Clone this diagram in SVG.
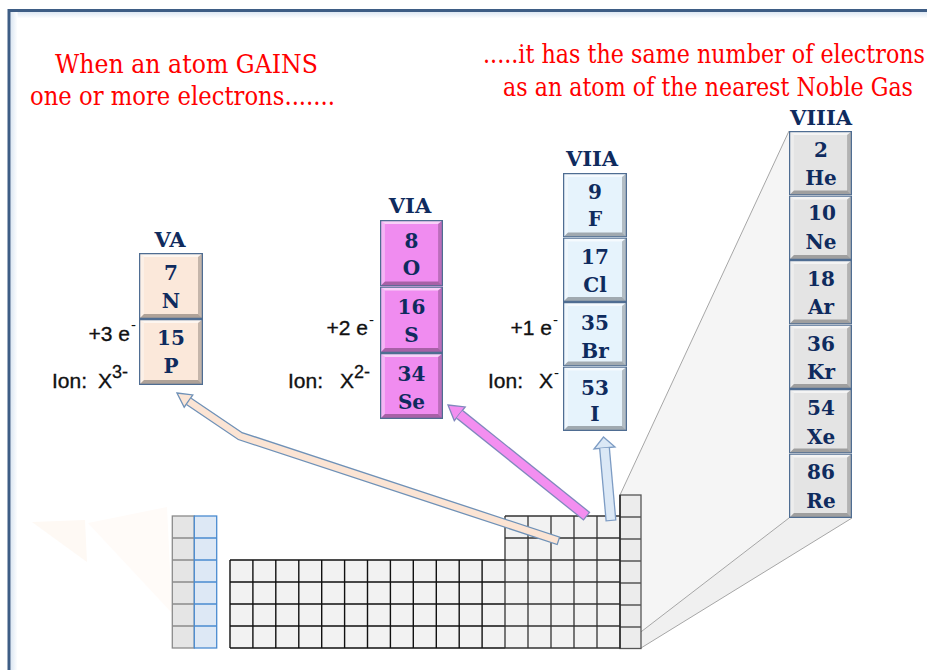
<svg xmlns="http://www.w3.org/2000/svg" width="927" height="670" viewBox="0 0 927 670">
<defs>
<style>
.title{font-family:'DejaVu Serif',serif;font-size:26.5px;fill:#ff0000;text-anchor:middle}
.grp{font-family:'DejaVu Serif',serif;font-weight:bold;font-size:21px;fill:#0f2b5e;text-anchor:middle}
.el{font-family:'DejaVu Serif',serif;font-weight:bold;font-size:20px;fill:#0f2b5e;text-anchor:middle}
.lbl{font-family:'Liberation Sans',Arial,sans-serif;font-size:21px;fill:#111;stroke:#111;stroke-width:.35px}
.sup{font-family:'Liberation Sans',Arial,sans-serif;font-size:18px;fill:#111;stroke:#111;stroke-width:.3px}
.tiny{font-family:'Liberation Sans',Arial,sans-serif;font-size:15px;fill:#111}
.va{fill:#fbe8da}
.via{fill:#f08cf0}
.viia{fill:#e6f3fc}
.viiia{fill:#e4e4e4}
.cellf{fill:#f2f2f2}
</style>
<linearGradient id="gtop" x1="0" y1="0" x2="0" y2="1"><stop offset="0" stop-color="#dbe6f2"/><stop offset="1" stop-color="#ffffff"/></linearGradient>
<linearGradient id="gleft" x1="0" y1="0" x2="1" y2="0"><stop offset="0" stop-color="#dbe6f2"/><stop offset="1" stop-color="#ffffff"/></linearGradient>
<symbol id="bv" viewBox="0 0 64 65" preserveAspectRatio="none">
<polygon points="0,0 64,0 59,4 5,4" fill="#fff" opacity=".6"/>
<polygon points="0,0 5,4 5,60 0,65" fill="#fff" opacity=".35"/>
<polygon points="64,0 64,65 59,60 59,4" fill="#000" opacity=".22"/>
<polygon points="0,65 64,65 59,60 5,60" fill="#000" opacity=".3"/>
<rect x=".6" y=".6" width="62.8" height="63.8" fill="none" stroke="#4f6d92" stroke-width="1.3"/>
</symbol>
</defs>
<rect width="927" height="670" fill="#ffffff"/>

<g id="frame">
<rect x="10.5" y="11.5" width="920" height="7" fill="url(#gtop)"/>
<rect x="10.5" y="11.5" width="7" height="660" fill="url(#gleft)"/>
<path d="M9,672 V10.5 H930" fill="none" stroke="#3e5d85" stroke-width="3"/>
</g>

<g id="faint">
<polygon points="32,522 85,520 87,562" fill="#fef9f4"/>
<polygon points="88,523 167,507 172,613" fill="#fffbf8"/>
</g>

<g id="titles">
<text class="title" x="186.5" y="73" textLength="263" lengthAdjust="spacingAndGlyphs">When an atom GAINS</text>
<text class="title" x="182.5" y="105" textLength="305" lengthAdjust="spacingAndGlyphs">one or more electrons.......</text>
<text class="title" x="704" y="63" textLength="442" lengthAdjust="spacingAndGlyphs">.....it has the same number of electrons</text>
<text class="title" x="708" y="96" textLength="410" lengthAdjust="spacingAndGlyphs">as an atom of the nearest Noble Gas</text>
</g>

<g id="projection">
<polygon points="620,495 789,131 789,518 620,648" fill="#f3f3f3" opacity=".8"/>
<polygon points="620,648 789,518 852,518 641,648" fill="#ececec" opacity=".8"/>
<path d="M620,495 L789,131 M620,648 L789,518 M641,648 L852,518" fill="none" stroke="#a6a6a6" stroke-width="1"/>
</g>

<g id="periodic-table">
<rect x="172.3" y="516" width="22" height="132" fill="#e5e5e5" stroke="#8a8a8a" stroke-width="1.3"/>
<path d="M172.3,538 H194.3 M172.3,560 H194.3 M172.3,582 H194.3 M172.3,604 H194.3 M172.3,626 H194.3" stroke="#8a8a8a" stroke-width="1.3"/>
<rect x="194.3" y="516" width="22.4" height="132" fill="#dde8f5" stroke="#4a8bd0" stroke-width="1.3"/>
<path d="M194.3,538 H216.7 M194.3,560 H216.7 M194.3,582 H216.7 M194.3,604 H216.7 M194.3,626 H216.7" stroke="#4a8bd0" stroke-width="1.3"/>

<rect class="cellf" x="230" y="560" width="275" height="88"/>
<path d="M230,560 V648 M252.9,560 V648 M275.8,560 V648 M298.8,560 V648 M321.7,560 V648 M344.6,560 V648 M367.5,560 V648 M390.4,560 V648 M413.3,560 V648 M436.3,560 V648 M459.2,560 V648 M482.1,560 V648 M230,560 H505 M230,582 H505 M230,604 H505 M230,626 H505 M230,648 H505" stroke="#111" stroke-width="1.4" fill="none"/>

<rect class="cellf" x="505" y="516" width="115" height="132"/>
<path d="M505,516 V648 M528,516 V648 M551,516 V648 M574,516 V648 M597,516 V648 M505,516 H620 M505,538 H620 M505,560 H620 M505,582 H620 M505,604 H620 M505,626 H620 M505,648 H620" stroke="#333" stroke-width="1.3" fill="none"/>

<rect x="620" y="495" width="21" height="153.5" fill="#ececec" stroke="#555" stroke-width="1.3"/>
<path d="M620,517 H641 M620,539 H641 M620,561 H641 M620,583 H641 M620,605 H641 M620,627 H641" stroke="#555" stroke-width="1.3"/>
<path d="M620,495 V648.5" stroke="#222" stroke-width="1.4"/>
</g>

<g id="group-VA">
<text class="grp" x="170" y="247">VA</text>
<g id="el-N"><rect class="va" x="139" y="253" width="64" height="66"/><use href="#bv" x="139" y="253" width="64" height="66"/>
<text class="el" x="171" y="279.5">7</text><text class="el" x="171" y="307.5">N</text></g>
<g id="el-P"><rect class="va" x="139" y="319" width="64" height="66"/><use href="#bv" x="139" y="319" width="64" height="66"/>
<text class="el" x="171" y="345">15</text><text class="el" x="171" y="373">P</text></g>
<text class="lbl" x="130" y="340.5" text-anchor="end">+3 e</text><text class="tiny" x="131" y="330">-</text>
<text class="lbl" x="52" y="388">Ion:</text><text class="lbl" x="98" y="388">X</text><text class="sup" x="112" y="378">3-</text>
</g>

<g id="group-VIA">
<text class="grp" x="410" y="213">VIA</text>
<g id="el-O"><rect class="via" x="380" y="220" width="63" height="66.5"/><use href="#bv" x="380" y="220" width="63" height="66.5"/>
<text class="el" x="411.5" y="247.5">8</text><text class="el" x="411.5" y="275">O</text></g>
<g id="el-S"><rect class="via" x="380" y="286.5" width="63" height="66.5"/><use href="#bv" x="380" y="286.5" width="63" height="66.5"/>
<text class="el" x="411.5" y="313.5">16</text><text class="el" x="411.5" y="341.5">S</text></g>
<g id="el-Se"><rect class="via" x="380" y="353" width="63" height="66"/><use href="#bv" x="380" y="353" width="63" height="66"/>
<text class="el" x="411.5" y="381">34</text><text class="el" x="411.5" y="409">Se</text></g>
<text class="lbl" x="368" y="335" text-anchor="end">+2 e</text><text class="tiny" x="369" y="325">-</text>
<text class="lbl" x="288" y="388">Ion:</text><text class="lbl" x="340" y="388">X</text><text class="sup" x="354" y="378">2-</text>
</g>

<g id="group-VIIA">
<text class="grp" x="592" y="166">VIIA</text>
<g id="el-F"><rect class="viia" x="563" y="173" width="64" height="64.5"/><use href="#bv" x="563" y="173" width="64" height="64.5"/>
<text class="el" x="595" y="198.5">9</text><text class="el" x="595" y="226">F</text></g>
<g id="el-Cl"><rect class="viia" x="563" y="237.5" width="64" height="64.5"/><use href="#bv" x="563" y="237.5" width="64" height="64.5"/>
<text class="el" x="595" y="263.5">17</text><text class="el" x="595" y="291.5">Cl</text></g>
<g id="el-Br"><rect class="viia" x="563" y="302" width="64" height="64.5"/><use href="#bv" x="563" y="302" width="64" height="64.5"/>
<text class="el" x="595" y="329.5">35</text><text class="el" x="595" y="357.5">Br</text></g>
<g id="el-I"><rect class="viia" x="563" y="366.5" width="64" height="64.5"/><use href="#bv" x="563" y="366.5" width="64" height="64.5"/>
<text class="el" x="595" y="394.5">53</text><text class="el" x="595" y="420.5">I</text></g>
<text class="lbl" x="552" y="335" text-anchor="end">+1 e</text><text class="tiny" x="553" y="325">-</text>
<text class="lbl" x="488" y="388">Ion:</text><text class="lbl" x="539" y="388">X</text><text class="tiny" x="554" y="378">-</text>
</g>

<g id="group-VIIIA">
<text class="grp" x="821" y="125">VIIIA</text>
<g id="el-He"><rect class="viiia" x="789" y="131" width="63" height="64.5"/><use href="#bv" x="789" y="131" width="63" height="64.5"/>
<text class="el" x="821" y="156.5">2</text><text class="el" x="821" y="185">He</text></g>
<g id="el-Ne"><rect class="viiia" x="789" y="195.5" width="63" height="64.5"/><use href="#bv" x="789" y="195.5" width="63" height="64.5"/>
<text class="el" x="822" y="220">10</text><text class="el" x="821" y="248.5">Ne</text></g>
<g id="el-Ar"><rect class="viiia" x="789" y="260" width="63" height="64.5"/><use href="#bv" x="789" y="260" width="63" height="64.5"/>
<text class="el" x="821" y="286">18</text><text class="el" x="821" y="314">Ar</text></g>
<g id="el-Kr"><rect class="viiia" x="789" y="324.5" width="63" height="64.5"/><use href="#bv" x="789" y="324.5" width="63" height="64.5"/>
<text class="el" x="821" y="350.5">36</text><text class="el" x="821" y="379">Kr</text></g>
<g id="el-Xe"><rect class="viiia" x="789" y="389" width="63" height="64.5"/><use href="#bv" x="789" y="389" width="63" height="64.5"/>
<text class="el" x="821" y="415">54</text><text class="el" x="821" y="443.5">Xe</text></g>
<g id="el-Re"><rect class="viiia" x="789" y="453.5" width="63" height="64.5"/><use href="#bv" x="789" y="453.5" width="63" height="64.5"/>
<text class="el" x="821" y="479">86</text><text class="el" x="821" y="508">Re</text></g>
</g>

<g id="connectors">
<path d="M559,541 L240,436 L189,401.5" fill="none" stroke="#6f91b7" stroke-width="9" stroke-linejoin="miter"/>
<polygon points="177,393 192.8,394.9 184.2,407.2" fill="#fbe5d5" stroke="#6f91b7" stroke-width="1.3" stroke-linejoin="miter"/>
<path d="M557.8,540.6 L240,436 L189,401.5" fill="none" stroke="#fbe4d4" stroke-width="6.4" stroke-linejoin="miter"/>

<path d="M587,516.5 L460,414.6" fill="none" stroke="#8088bd" stroke-width="11"/>
<polygon points="448,405 465.2,406.9 454.3,420.7" fill="#f38ef0" stroke="#8088bd" stroke-width="1.3"/>
<path d="M586,515.7 L459.5,414.2" fill="none" stroke="#f38ef0" stroke-width="8.4"/>

<path d="M611,521 L604.5,448" fill="none" stroke="#7d9cc4" stroke-width="11"/>
<polygon points="603.5,437 615,447 594,449" fill="#dbe8f6" stroke="#7d9cc4" stroke-width="1.3"/>
<path d="M610.9,519.8 L604.5,448" fill="none" stroke="#dbe8f6" stroke-width="8.4"/>
</g>
</svg>
